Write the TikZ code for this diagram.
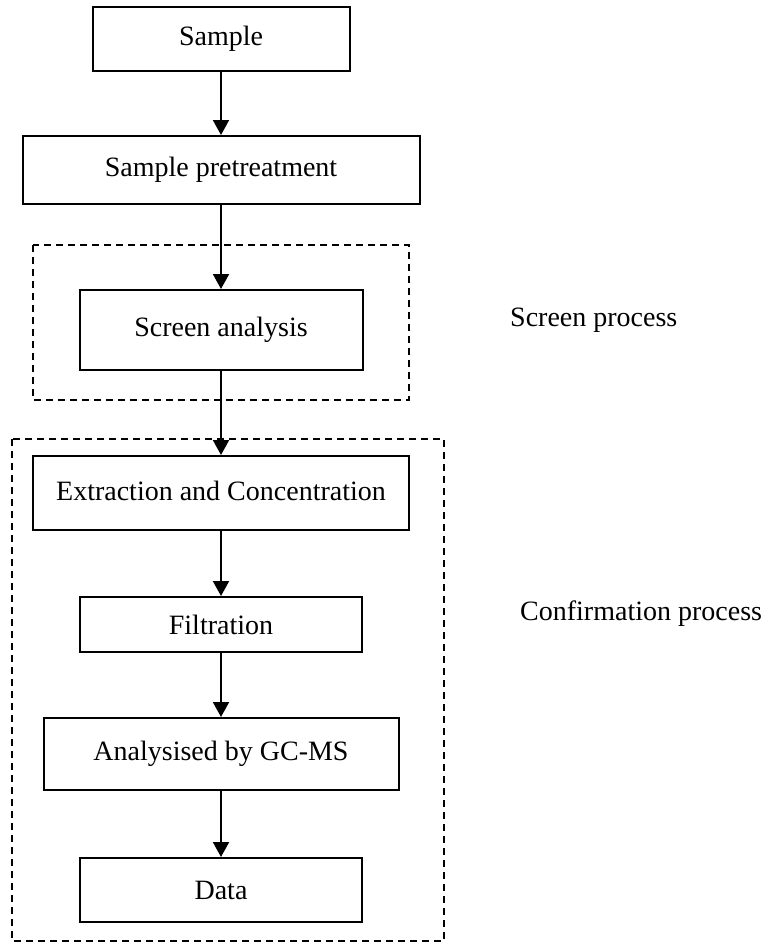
\documentclass[tikz,border=0pt]{standalone}
\usepackage{fontspec}
\setmainfont{Liberation Serif}
\usetikzlibrary{arrows.meta}
\begin{document}
\begin{tikzpicture}[x=1pt,y=-1pt,
  every node/.style={font=\fontsize{28}{33}\selectfont},
  stepbox/.style={draw,line width=2pt,rectangle,inner sep=0pt},
  arr/.style={line width=2pt,-{Triangle[length=15pt,width=16pt]}},
  groupbox/.style={draw,line width=1.3pt,dash pattern=on 7pt off 5pt}]
\useasboundingbox (0,0) rectangle (768,950);
\node[stepbox,minimum width=257pt,minimum height=64pt] (s) at (221,39) {Sample};
\node[stepbox,minimum width=397pt,minimum height=68pt] (p) at (221,170) {Sample pretreatment};
\node[stepbox,minimum width=283pt,minimum height=80pt] (sa) at (221,330) {\raisebox{6pt}{Screen analysis}};
\node[stepbox,minimum width=376pt,minimum height=74pt] (e) at (221,493) {\raisebox{4pt}{Extraction and Concentration}};
\node[stepbox,minimum width=282pt,minimum height=55pt] (f) at (221,624.5) {\raisebox{-4pt}{Filtration}};
\node[stepbox,minimum width=355pt,minimum height=72pt] (g) at (221,754) {Analysised by GC-MS};
\node[stepbox,minimum width=282pt,minimum height=64pt] (d) at (221,890) {Data};
\draw[groupbox] (33,245) rectangle (409,400);
\draw[groupbox] (12,439) rectangle (444,941);
\node[anchor=base west,inner sep=0pt] (lsp) at (510,326) {Screen process};
\node[anchor=base west,inner sep=0pt] (lcp) at (520,620) {Confirmation process};
\draw[arr] (s.south) -- (p.north);
\draw[arr] (p.south) -- (sa.north);
\draw[arr] (sa.south) -- (e.north);
\draw[arr] (e.south) -- (f.north);
\draw[arr] (f.south) -- (g.north);
\draw[arr] (g.south) -- (d.north);
\end{tikzpicture}
\end{document}
